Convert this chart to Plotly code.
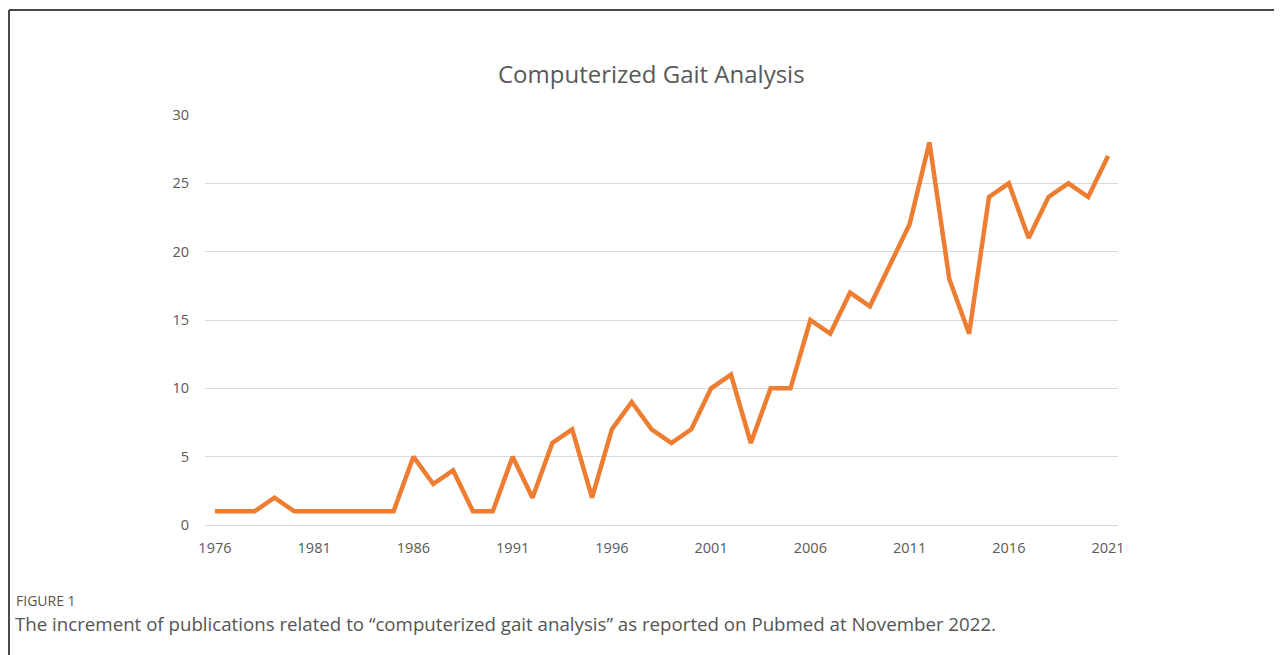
import plotly.graph_objects as go

years = list(range(1976, 2022))
publications = [1, 1, 1, 2, 1, 1, 1, 1, 1, 1,
                5, 3, 4, 1, 1, 5, 2, 6, 7, 2,
                7, 9, 7, 6, 7, 10, 11, 6, 10, 10,
                15, 14, 17, 16, 19, 22, 28, 18, 14, 24,
                25, 21, 24, 25, 24, 27]
x_ticks = list(range(1976, 2022, 5))
y_ticks = [0, 5, 10, 15, 20, 25, 30]

OFF = 8  # browser body margin
W, H = 1282 - OFF, 655 - OFF
L, R, T, B = 205 - OFF, 1118 - OFF, 115 - OFF, 525 - OFF

def px(x):
    return (x - OFF - L) / (R - L)

def py(y):
    return (B - (y - OFF)) / (B - T)

fig = go.Figure()
fig.add_trace(go.Scatter(x=years, y=publications, mode="lines",
                         line=dict(color="#ED7D31", width=4.5),
                         hoverinfo="x+y", showlegend=False))

fig.update_layout(
    width=W, height=H,
    margin=dict(l=L, r=W - R, t=T, b=H - B, pad=0),
    paper_bgcolor="white", plot_bgcolor="white",
    font=dict(family="Open Sans, sans-serif", color="#595959"),
    xaxis=dict(range=[1975.5, 2021.5], tickvals=x_ticks, showgrid=False,
               showline=True, linecolor="#D9D9D9", linewidth=1,
               ticks="", ticklabelstandoff=10,
               tickfont=dict(size=14.5, color="#595959"),
               zeroline=False, fixedrange=True),
    yaxis=dict(range=[0, 30], tickvals=y_ticks, showgrid=True,
               gridcolor="#D9D9D9", gridwidth=1, showline=False,
               ticks="", ticklabelstandoff=15,
               tickfont=dict(size=14.5, color="#595959"),
               zeroline=False, fixedrange=True),
    annotations=[
        dict(text="Computerized Gait Analysis", x=px(651), y=py(74),
             xref="paper", yref="paper", showarrow=False,
             xanchor="center", yanchor="middle",
             font=dict(size=24, color="#595959")),
        dict(text="FIGURE 1", x=px(14), y=py(600),
             xref="paper", yref="paper", showarrow=False,
             xanchor="left", yanchor="middle",
             font=dict(size=14, color="#555555", family="Open Sans, sans-serif")),
        dict(text="The increment of publications related to \u201ccomputerized gait analysis\u201d as reported on Pubmed at November 2022.",
             x=px(13), y=py(623),
             xref="paper", yref="paper", showarrow=False,
             xanchor="left", yanchor="middle",
             font=dict(size=18.7, color="#555555", family="Open Sans, sans-serif")),
    ],
    shapes=[
        dict(type="line", xref="paper", yref="paper",
             x0=px(9), x1=px(1282 + 5), y0=py(10), y1=py(10),
             line=dict(color="#4a4a4a", width=2)),
        dict(type="line", xref="paper", yref="paper",
             x0=px(9), x1=px(9), y0=py(10), y1=py(655 + 5),
             line=dict(color="#4a4a4a", width=2)),
    ],
)

fig.write_html("out.html")
